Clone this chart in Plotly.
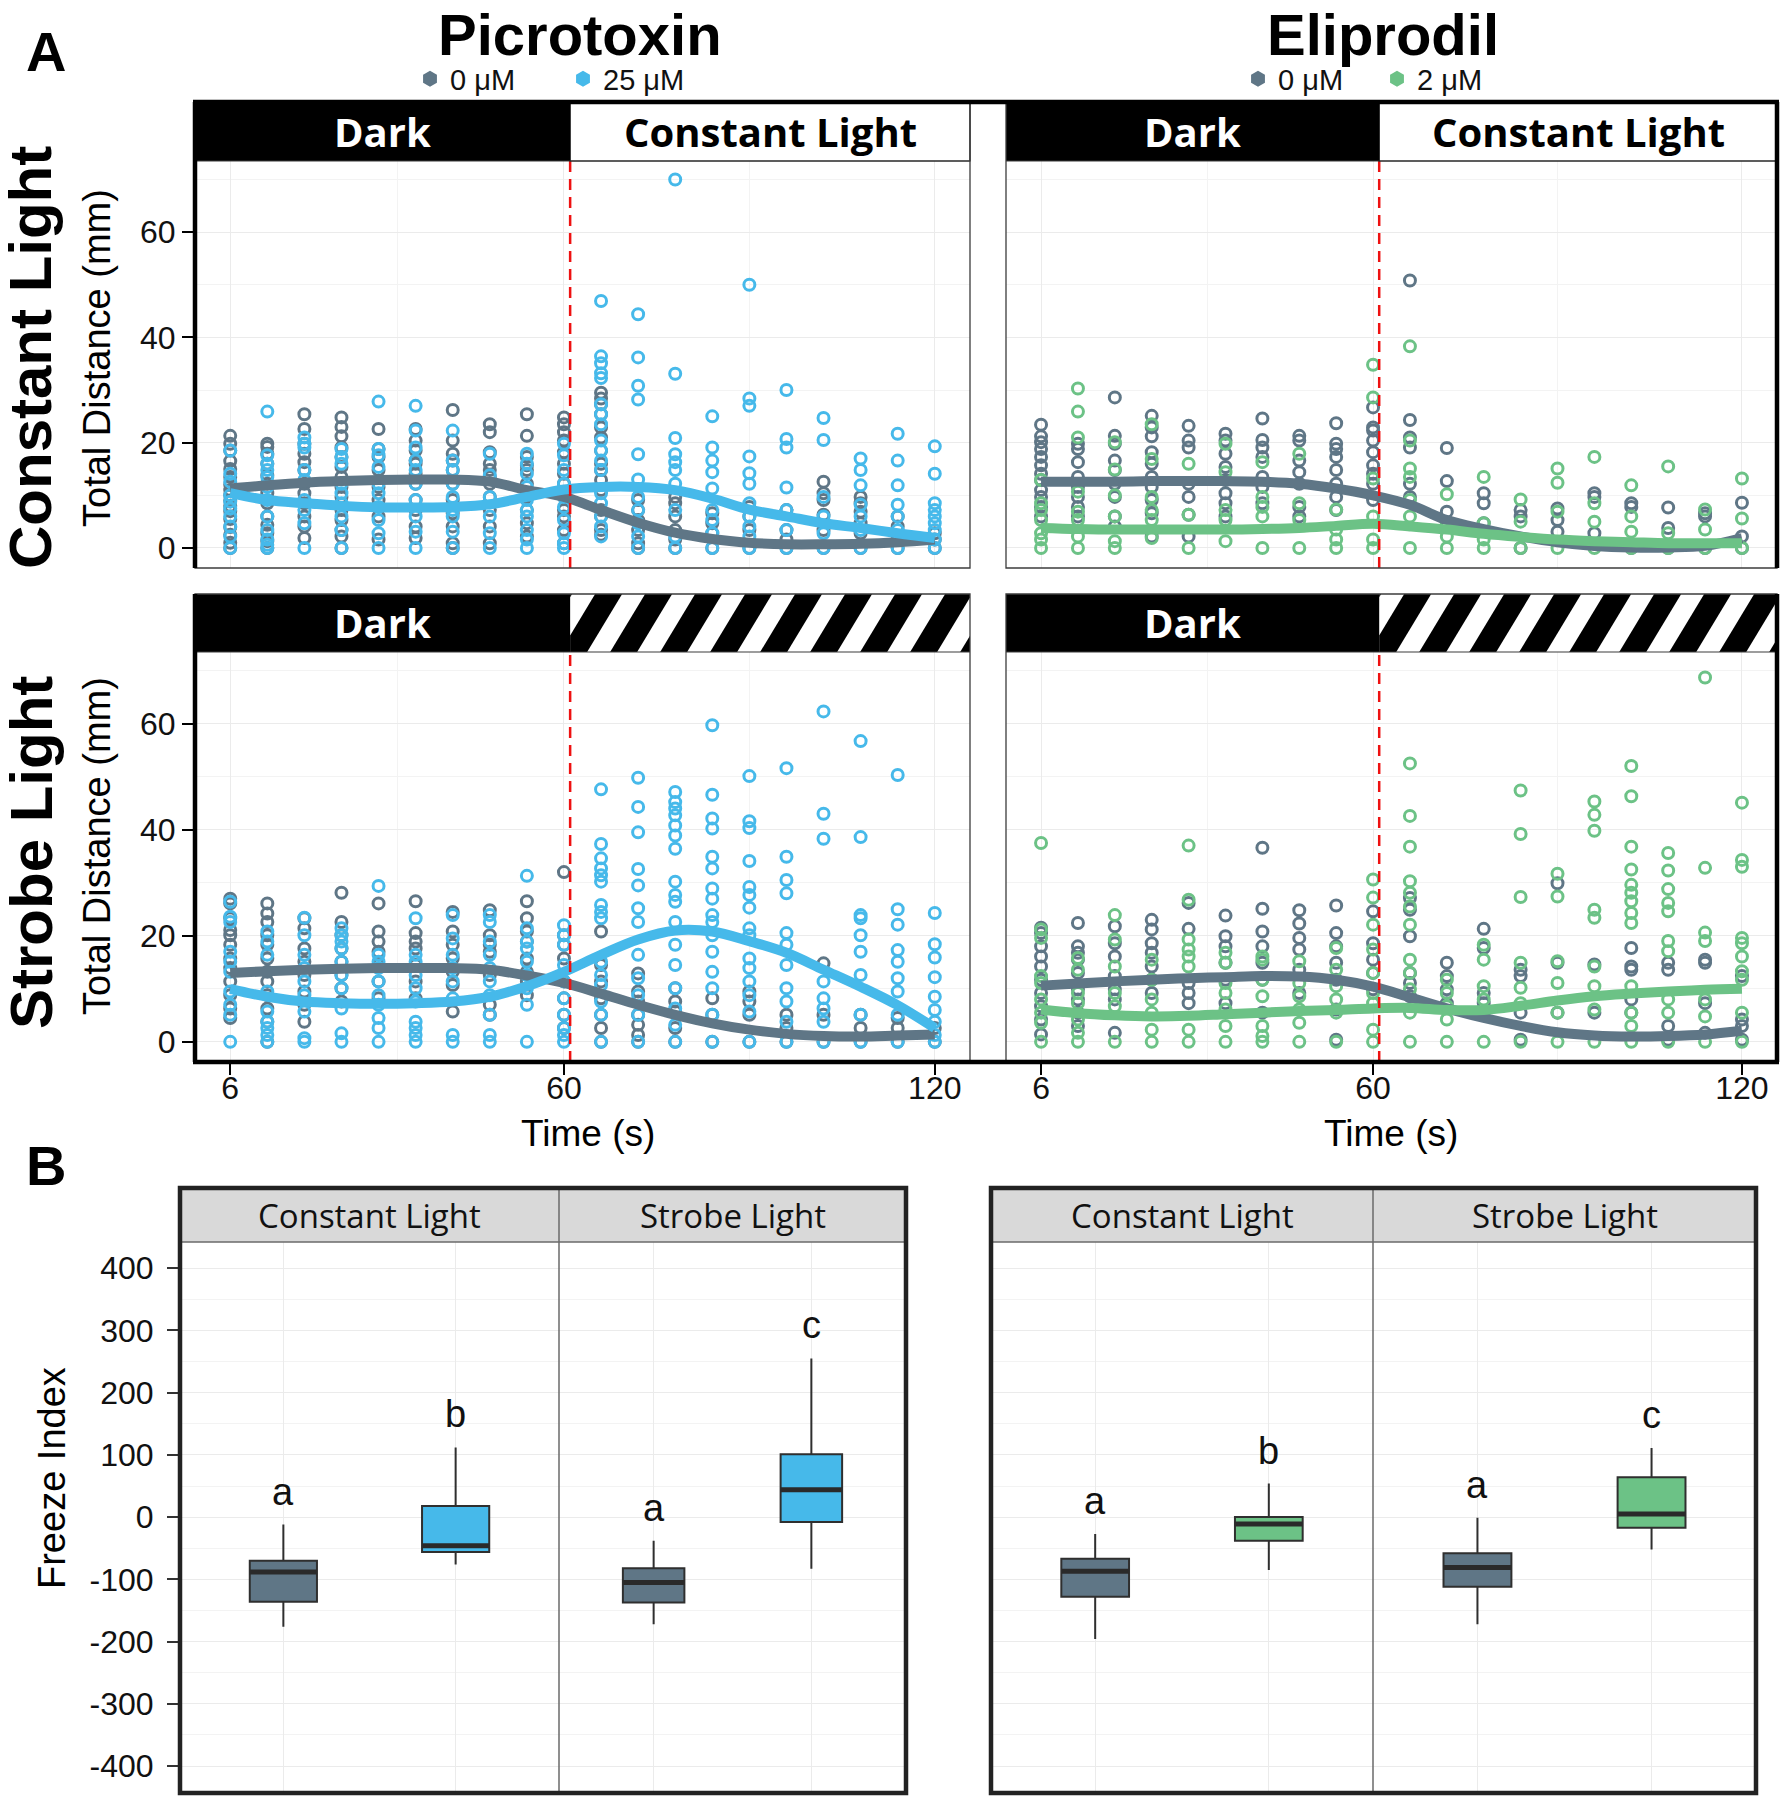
import plotly.graph_objects as go

W, H = 1785, 1800
FONT = "Liberation Sans"
STRIP_FONT = "Open Sans"

GREY = "#5f7686"
BLUE = "#46b9ea"
GREEN = "#6cc286"

TIME = [6, 12, 18, 24, 30, 36, 42, 48, 54, 60, 66, 72, 78, 84, 90, 96, 102, 108, 114, 120]
TIME_TICKS = [6, 60, 120]
TIME_MINOR = [33, 90]
DIST_TICKS = [0, 20, 40, 60]
DIST_MINOR = [10, 30, 50, 70]
LIGHT_ON = 61

# ---- Picrotoxin, constant light (one list of fish per time bin) ----
PIC_CONST_0UM = [
    [21.3, 19.8, 18.5, 16.5, 15.0, 13.5, 12.0, 11.0, 10.0, 9.0, 8.0, 7.0, 5.5, 4.0, 2.5, 1.0, 0.0],
    [19.8, 19.2, 17.9, 16.0, 13.8, 12.2, 10.4, 8.5, 6.0, 4.4, 2.8, 1.3, 0.0],
    [25.4, 22.6, 19.8, 17.9, 16.3, 14.8, 12.2, 10.4, 8.5, 6.0, 4.1, 1.9],
    [24.8, 23.0, 21.2, 19.1, 17.3, 15.4, 13.5, 11.6, 9.7, 7.2, 5.3, 3.4, 2.2, 0.0],
    [22.6, 18.8, 17.3, 14.8, 11.6, 9.1, 6.0, 1.6],
    [22.6, 20.4, 18.5, 16.6, 16.0, 14.1, 12.2, 9.1, 7.2, 4.1, 1.9],
    [26.2, 20.4, 17.9, 16.6, 14.8, 12.2, 9.1, 6.6, 4.1, 0.9, 0.0],
    [23.5, 22.0, 18.2, 16.0, 14.8, 13.5, 12.2, 9.7, 7.2, 4.1, 0.9],
    [25.4, 21.3, 17.3, 15.7, 14.8, 12.2, 9.7, 7.2, 4.7, 2.2],
    [24.8, 23.5, 22.0, 20.4, 18.2, 16.0, 14.1, 12.2, 9.7, 7.2, 6.0, 3.4, 0.9],
    [29.5, 28.4, 27.3, 25.4, 22.9, 21.0, 18.5, 16.0, 14.8, 12.9, 11.0, 7.2, 6.0, 3.4, 2.5],
    [9.1, 7.2, 5.3, 3.4, 0.9, 0.0],
    [9.7, 8.5, 6.0, 3.4, 1.6, 0.0],
    [6.6, 4.7, 2.8, 0.0],
    [7.8, 6.0, 3.4, 0.0],
    [7.2, 3.4, 1.6, 0.0],
    [12.6, 10.4, 9.1, 6.3, 3.4, 0.0],
    [9.7, 8.5, 6.9, 4.7, 2.8, 0.0],
    [6.0, 4.1, 2.2, 0.0],
    [2.8, 1.6, 0.0],
]
PIC_CONST_25UM = [
    [18.5, 14.1, 12.6, 10.0, 8.8, 7.5, 6.0, 4.1, 2.2, 0.0],
    [25.9, 17.6, 16.0, 14.8, 13.5, 11.6, 9.1, 6.0, 3.4, 1.6, 0.6, 0.0],
    [21.0, 19.8, 19.1, 14.8, 12.9, 9.1, 7.2, 4.7, 0.0],
    [18.8, 17.3, 16.0, 12.2, 10.4, 8.5, 6.0, 3.4, 0.0],
    [27.8, 18.8, 17.6, 15.4, 12.2, 10.4, 7.8, 5.3, 2.8, 0.0],
    [27.0, 22.3, 19.1, 16.6, 14.8, 12.2, 9.1, 6.0, 3.1, 0.0],
    [22.3, 16.6, 14.8, 12.2, 9.7, 7.2, 6.0, 3.1, 0.0],
    [17.9, 13.8, 9.7, 6.0, 2.8, 0.0],
    [17.9, 16.0, 14.1, 11.6, 9.1, 7.2, 6.0, 3.4, 1.6, 0.0],
    [19.8, 17.6, 14.8, 12.2, 9.7, 7.8, 5.3, 2.8, 0.9, 0.0],
    [46.9, 36.4, 35.1, 33.2, 32.3, 27.3, 25.4, 23.5, 20.4, 18.5, 16.6, 14.8, 10.4, 8.5, 6.0, 4.1, 2.2],
    [44.4, 36.2, 30.8, 28.2, 17.8, 13.0, 9.7, 7.2, 4.7, 2.2, 0.0],
    [70.0, 33.1, 20.9, 17.8, 16.3, 14.8, 12.2, 7.2, 2.2, 0.0],
    [25.0, 19.1, 16.6, 14.4, 11.3, 7.2, 5.3, 2.8, 0.0],
    [50.0, 28.4, 27.0, 17.4, 14.2, 12.2, 8.5, 6.0, 4.1, 2.2, 0.0],
    [30.0, 20.7, 19.1, 11.5, 7.2, 3.4, 0.0],
    [24.7, 20.5, 9.7, 6.0, 2.8, 0.0],
    [17.0, 14.8, 11.9, 8.2, 6.0, 3.4, 0.0],
    [21.7, 16.6, 11.9, 8.2, 6.0, 3.4, 0.0],
    [19.3, 14.1, 8.5, 7.2, 6.0, 4.7, 3.4, 1.6, 0.0],
]
PIC_CONST_0UM_FIT = [11.3, 11.9, 12.4, 12.7, 12.9, 13.0, 13.0, 12.6, 11.0, 9.7,
                     7.2, 4.8, 2.9, 1.7, 1.0, 0.7, 0.7, 0.8, 1.1, 1.6]
PIC_CONST_25UM_FIT = [10.4, 9.1, 8.5, 8.0, 7.7, 7.7, 7.8, 8.3, 9.7, 11.1,
                      11.6, 11.6, 11.0, 9.4, 7.3, 6.0, 4.7, 3.8, 2.8, 1.9]

# ---- Eliprodil, constant light ----
ELI_CONST_0UM = [
    [23.4, 21.2, 20.1, 18.8, 17.3, 15.7, 14.1, 12.9, 11.0, 9.7, 7.8, 6.0],
    [19.8, 18.8, 16.3, 13.5, 11.6, 9.7, 7.8, 6.0],
    [28.6, 21.3, 19.8, 16.6, 14.8, 12.2, 9.7, 6.0, 4.1],
    [25.1, 22.9, 21.2, 18.2, 16.0, 13.5, 11.6, 9.1, 6.6, 2.2],
    [23.2, 20.4, 19.1, 12.2, 9.7, 6.3, 2.2],
    [21.7, 20.4, 17.9, 15.4, 12.9, 10.4, 8.5, 6.0],
    [24.6, 20.5, 19.1, 17.3, 13.5, 11.6, 8.5],
    [21.3, 20.4, 16.6, 14.4, 12.2, 7.8, 6.0],
    [23.7, 19.8, 18.8, 17.3, 14.8, 12.2, 9.7, 7.2],
    [26.7, 22.9, 22.3, 20.4, 18.2, 15.7, 14.1, 12.2, 9.1],
    [50.8, 24.3, 21.0, 19.1, 12.2, 9.7],
    [19.0, 12.7, 6.9],
    [10.4, 8.5, 4.7],
    [7.2, 6.0, 0.0],
    [7.5, 5.3, 3.1],
    [10.4, 9.7, 2.8],
    [8.5, 7.8, 0.0],
    [7.7, 3.8, 0.0],
    [6.6, 6.0, 0.0],
    [8.6, 2.2, 0.0],
]
ELI_CONST_2UM = [
    [12.9, 8.5, 7.2, 5.3, 2.8, 1.6, 0.0],
    [30.3, 25.9, 21.0, 10.7, 6.9, 5.3, 2.2, 0.0],
    [20.1, 14.9, 10.0, 6.0, 1.3, 0.0],
    [23.5, 16.9, 9.7, 7.2, 5.3, 1.9],
    [16.0, 6.3, 0.0],
    [19.8, 14.4, 7.2, 5.3, 1.3],
    [16.3, 9.7, 7.8, 6.0, 0.0],
    [17.9, 8.5, 5.3, 0.0],
    [7.3, 3.5, 1.6, 0.0],
    [34.8, 28.6, 13.2, 6.0, 1.6, 0.0],
    [38.3, 20.4, 15.1, 13.5, 9.1, 6.0, 0.0],
    [10.2, 4.7, 2.2, 0.0],
    [13.5, 4.7, 1.6, 0.0],
    [9.2, 5.0, 0.0],
    [15.1, 12.4, 6.9, 0.0],
    [17.3, 8.5, 5.0, 0.0],
    [11.9, 6.0, 3.1, 0.0],
    [15.5, 2.8, 0.0],
    [7.3, 3.5, 0.0],
    [13.2, 5.6, 0.0],
]
ELI_CONST_0UM_FIT = [12.6, 12.6, 12.6, 12.7, 12.7, 12.7, 12.6, 12.2, 11.3, 10.0,
                     8.2, 5.3, 3.6, 2.2, 1.1, 0.4, 0.1, 0.1, 0.4, 1.9]
ELI_CONST_2UM_FIT = [3.8, 3.6, 3.5, 3.5, 3.5, 3.5, 3.6, 3.8, 4.2, 4.6,
                     4.1, 3.5, 2.7, 2.1, 1.6, 1.3, 1.1, 0.9, 0.9, 0.9]

# ---- Picrotoxin, strobe light ----
PIC_STROBE_0UM = [
    [27.0, 26.1, 23.3, 21.1, 20.1, 18.3, 15.7, 13.9, 11.4, 8.8, 6.3, 4.5],
    [26.1, 24.2, 22.6, 20.1, 18.3, 15.7, 13.2, 11.4, 8.8, 6.3, 3.8, 0.0],
    [23.3, 21.4, 17.6, 15.1, 12.6, 9.5, 7.0, 3.8],
    [28.1, 22.6, 20.1, 17.6, 15.1, 12.6, 10.1, 7.6],
    [26.1, 20.8, 18.9, 17.0, 14.5, 11.4, 8.2],
    [26.5, 20.5, 18.9, 17.6, 14.5, 11.4, 8.2],
    [24.5, 20.8, 18.3, 15.7, 13.2, 10.7, 5.7],
    [24.8, 20.1, 18.3, 17.0, 12.6, 7.0, 5.1],
    [26.5, 23.3, 20.8, 18.9, 15.7, 13.2, 11.4, 8.8],
    [32.0, 20.1, 18.3, 15.7, 11.4, 8.2, 5.1, 2.6],
    [20.8, 14.5, 11.4, 8.2, 5.1, 2.6, 0.0],
    [12.9, 9.5, 7.6, 5.1, 3.2, 1.3, 0.0],
    [10.1, 7.6, 5.7, 2.6, 0.0],
    [8.2, 5.1, 0.0],
    [9.5, 7.6, 5.1, 0.0],
    [5.1, 2.6, 0.0],
    [14.8, 5.1, 0.0],
    [5.1, 2.6, 0.0],
    [4.5, 2.6, 0.0],
    [2.6, 0.0],
]
PIC_STROBE_25UM = [
    [26.4, 23.6, 22.6, 17.0, 15.1, 13.2, 9.5, 7.0, 5.1, 0.0],
    [20.8, 18.9, 16.4, 9.5, 5.7, 3.8, 2.6, 1.3, 0.0],
    [23.4, 20.1, 16.4, 13.9, 11.4, 8.8, 5.7, 0.7, 0.0],
    [21.4, 20.1, 18.9, 17.6, 15.1, 12.6, 10.1, 6.3, 1.6, 0.0],
    [29.4, 16.4, 15.1, 13.9, 11.4, 8.8, 7.0, 4.5, 2.6, 0.0],
    [23.3, 16.4, 15.1, 12.6, 10.1, 7.6, 3.8, 2.6, 1.3, 0.0],
    [23.9, 19.5, 16.4, 13.9, 11.4, 8.2, 1.3, 0.0],
    [23.9, 22.6, 18.9, 16.4, 13.9, 11.4, 8.8, 5.1, 1.3, 0.0],
    [31.3, 21.4, 18.9, 17.6, 15.1, 12.6, 10.1, 7.0, 0.0],
    [22.0, 20.1, 18.3, 14.5, 11.4, 8.2, 5.1, 2.6, 1.3, 0.0],
    [47.6, 37.3, 34.6, 32.7, 31.4, 30.2, 25.8, 24.5, 23.3, 15.1, 12.6, 10.7, 7.6, 5.1, 0.0],
    [49.8, 44.3, 39.5, 32.6, 29.5, 25.2, 22.6, 16.4, 12.0, 8.8, 5.1, 0.0],
    [47.1, 45.2, 44.0, 42.7, 40.8, 38.9, 36.4, 30.2, 27.7, 26.4, 22.6, 18.3, 14.5, 10.1, 6.3, 3.2, 0.0],
    [59.7, 46.6, 42.1, 40.2, 34.9, 32.7, 28.9, 27.0, 23.9, 22.6, 20.1, 17.0, 13.2, 10.1, 5.1, 0.0],
    [50.1, 41.6, 40.3, 34.1, 29.2, 27.7, 25.3, 21.4, 20.1, 15.7, 13.9, 11.4, 8.8, 5.7, 0.0],
    [51.6, 34.9, 30.5, 28.0, 20.5, 18.3, 14.5, 10.1, 7.6, 3.8, 0.0],
    [62.3, 43.0, 38.3, 11.4, 8.2, 6.3, 3.8, 0.0],
    [56.7, 38.6, 23.9, 23.3, 20.1, 17.0, 12.6, 5.1, 0.0],
    [50.3, 25.0, 22.1, 17.3, 15.1, 12.0, 9.5, 5.1, 0.0],
    [24.3, 18.4, 15.9, 12.2, 8.5, 6.0, 3.8, 1.3, 0.0],
]
PIC_STROBE_0UM_FIT = [13.0, 13.3, 13.6, 13.8, 13.9, 13.9, 13.9, 13.6, 12.5, 11.1,
                      9.1, 7.0, 5.1, 3.5, 2.3, 1.5, 1.1, 1.0, 1.2, 1.4]
PIC_STROBE_25UM_FIT = [10.0, 8.5, 7.6, 7.3, 7.2, 7.3, 7.6, 8.5, 10.5, 13.2,
                       16.4, 19.3, 21.0, 20.8, 19.0, 16.8, 13.6, 10.4, 6.9, 2.6]

# ---- Eliprodil, strobe light ----
ELI_STROBE_0UM = [
    [21.5, 20.5, 18.0, 16.1, 14.2, 11.7, 9.2, 6.7, 4.2, 1.4],
    [22.4, 18.0, 16.8, 15.5, 13.0, 9.9, 8.0, 5.5, 3.0],
    [21.8, 18.6, 16.1, 12.4, 9.9, 8.0, 1.7],
    [23.0, 21.2, 18.6, 16.8, 14.2, 11.7, 9.2],
    [26.2, 21.3, 11.1, 9.2, 7.3],
    [23.8, 19.9, 18.0, 14.9, 11.7, 7.3],
    [36.6, 25.1, 20.8, 18.0, 14.9, 11.7, 5.5],
    [24.8, 22.3, 19.6, 17.4, 13.6, 9.2],
    [25.7, 20.5, 18.0, 14.9, 11.7, 6.1, 0.4],
    [24.6, 18.6, 15.5, 13.0, 9.9],
    [27.1, 24.9, 19.9, 13.0, 11.1, 8.6],
    [14.9, 12.4, 9.9, 7.3],
    [21.3, 17.7, 9.2, 7.3],
    [13.6, 12.4, 5.5, 0.4],
    [29.9, 14.9, 5.5],
    [14.6, 5.5],
    [17.7, 14.2, 13.6, 8.0, 5.5],
    [14.9, 13.6, 3.0, 0.4],
    [15.5, 14.9, 7.3, 1.7],
    [12.4, 4.2, 3.0, 0.4],
]
ELI_STROBE_2UM = [
    [37.5, 21.2, 19.6, 12.4, 11.1, 8.0, 5.5, 3.6, 0.0],
    [15.8, 13.6, 9.2, 7.3, 4.2, 1.7, 0.0],
    [23.9, 19.3, 14.2, 9.2, 6.7, 0.0],
    [15.5, 11.7, 8.0, 5.5, 2.3, 0.0],
    [37.0, 26.8, 19.3, 17.4, 16.1, 14.2, 2.3, 0.0],
    [16.8, 14.9, 11.1, 9.2, 6.1, 3.0, 0.0],
    [16.1, 15.5, 11.7, 8.6, 3.0, 1.1, 0.0],
    [15.2, 11.1, 8.6, 6.1, 3.6, 0.0],
    [17.7, 13.6, 10.5, 8.0, 5.5, 0.0],
    [30.6, 27.2, 22.1, 17.4, 13.0, 9.2, 7.3, 2.3, 0.0],
    [52.5, 42.6, 36.8, 30.3, 28.1, 25.5, 22.1, 15.5, 13.0, 9.9, 5.5, 0.0],
    [11.7, 9.2, 6.7, 4.2, 0.0],
    [18.3, 15.5, 10.5, 8.0, 5.5, 0.0],
    [47.4, 39.2, 27.3, 14.9, 10.2, 7.3, 0.0],
    [31.7, 27.4, 15.2, 11.1, 5.5, 0.0],
    [45.3, 42.8, 39.8, 24.9, 23.4, 14.2, 10.5, 6.1, 0.0],
    [52.0, 46.3, 36.8, 32.5, 29.6, 28.1, 26.5, 24.3, 22.4, 10.5, 5.5, 3.0, 0.0],
    [35.6, 32.3, 28.8, 26.2, 24.6, 19.0, 17.1, 8.0, 5.5, 0.0],
    [68.7, 32.8, 20.6, 19.0, 8.0, 4.8, 0.0],
    [45.1, 34.3, 33.0, 19.6, 18.6, 16.1, 13.3, 11.7, 5.5, 0.0],
]
ELI_STROBE_0UM_FIT = [10.6, 11.0, 11.4, 11.7, 12.0, 12.2, 12.4, 12.3, 11.7, 10.4,
                      8.4, 6.3, 4.5, 3.0, 1.8, 1.2, 1.0, 1.1, 1.4, 2.1]
ELI_STROBE_2UM_FIT = [6.1, 5.4, 5.0, 4.8, 4.9, 5.2, 5.5, 5.8, 6.0, 6.3,
                      6.4, 6.0, 6.0, 6.8, 7.8, 8.6, 9.1, 9.5, 9.8, 10.0]

# ---- Freeze index boxes: [lower whisker, q1, median, q3, upper whisker] ----
PIC_CONST_BOX = [[-176, -136, -88, -70, -12], [-76, -56, -46, 18, 112]]
PIC_STROBE_BOX = [[-172, -137, -105, -82, -38], [-83, -8, 44, 101, 255]]
ELI_CONST_BOX = [[-196, -128, -87, -67, -27], [-85, -38, -11, 0, 54]]
ELI_STROBE_BOX = [[-172, -112, -81, -58, -1], [-52, -17, 5, 64, 111]]
PIC_CONST_LETTERS = ["a", "b"]
PIC_STROBE_LETTERS = ["a", "c"]
ELI_CONST_LETTERS = ["a", "b"]
ELI_STROBE_LETTERS = ["a", "c"]
FREEZE_TICKS = [-400, -300, -200, -100, 0, 100, 200, 300, 400]
FREEZE_LABELS = ["-400", "-300", "-200", "-100", "0", "100", "200", "300", "400"]
FREEZE_MINOR = [-350, -250, -150, -50, 50, 150, 250, 350]


def fx(p):
    return p / W


def fy(p):
    return 1 - p / H


TIME_RANGE = [0.3, 125.7]
DIST_RANGE = [-3.8, 73.5]
A_COLS = [(195, 970), (1006, 1777)]
A_ROWS = [dict(strip=(102, 161), plot=(161, 568)),
          dict(strip=(594, 652), plot=(652, 1062))]


def tpx(t, x0, x1):
    return x0 + (t - TIME_RANGE[0]) / (TIME_RANGE[1] - TIME_RANGE[0]) * (x1 - x0)


fig = go.Figure()
shapes = []
annotations = []
layout = {}


def flat(cols):
    xs, ys = [], []
    for t, col in zip(TIME, cols):
        for v in col:
            xs.append(t)
            ys.append(v)
    return xs, ys


def clip_x(pts, lim, keep_greater):
    out = []
    for i in range(len(pts)):
        cur, prev = pts[i], pts[i - 1]
        cin = cur[0] >= lim if keep_greater else cur[0] <= lim
        pin = prev[0] >= lim if keep_greater else prev[0] <= lim
        if cin != pin:
            k = (lim - prev[0]) / (cur[0] - prev[0])
            out.append((lim, prev[1] + k * (cur[1] - prev[1])))
        if cin:
            out.append(cur)
    return out


def add_hatch(xs, xe, yt, yb):
    period, bw, dx = 50, 27, 35
    k = -2
    while xs + k * period - 10 < xe:
        xb = xs + k * period - 10
        poly = [(xb, yb), (xb + bw, yb), (xb + bw + dx, yt), (xb + dx, yt)]
        poly = clip_x(clip_x(poly, xs, True), xe, False)
        if len(poly) >= 3:
            path = "M " + " L ".join(f"{fx(a):.5f},{fy(b):.5f}" for a, b in poly) + " Z"
            shapes.append(dict(type="path", path=path, xref="paper", yref="paper",
                               fillcolor="black", line=dict(width=0), layer="above"))
        k += 1


def rect(x0, y0, x1, y1, **kw):
    d = dict(type="rect", xref="paper", yref="paper",
             x0=fx(x0), x1=fx(x1), y0=fy(y1), y1=fy(y0), layer="above")
    d.update(kw)
    shapes.append(d)


def hline(x0, x1, y, width, color="black"):
    shapes.append(dict(type="line", xref="paper", yref="paper", x0=fx(x0), x1=fx(x1),
                       y0=fy(y), y1=fy(y), line=dict(color=color, width=width), layer="above"))


def vline(x, y0, y1, width, color="black"):
    shapes.append(dict(type="line", xref="paper", yref="paper", x0=fx(x), x1=fx(x),
                       y0=fy(y0), y1=fy(y1), line=dict(color=color, width=width), layer="above"))


def text(x, y, s, size, family=FONT, color="black", bold=False, angle=0, yanchor="middle"):
    annotations.append(dict(x=fx(x), y=fy(y), xref="paper", yref="paper", showarrow=False,
                            xanchor="center", yanchor=yanchor,
                            text=f"<b>{s}</b>" if bold else s, textangle=angle,
                            font=dict(size=size, family=family, color=color)))


# ---------------- Panel A ----------------
panels = [
    (1, 0, 0, PIC_CONST_0UM, PIC_CONST_25UM, PIC_CONST_0UM_FIT, PIC_CONST_25UM_FIT, BLUE),
    (2, 1, 0, ELI_CONST_0UM, ELI_CONST_2UM, ELI_CONST_0UM_FIT, ELI_CONST_2UM_FIT, GREEN),
    (3, 0, 1, PIC_STROBE_0UM, PIC_STROBE_25UM, PIC_STROBE_0UM_FIT, PIC_STROBE_25UM_FIT, BLUE),
    (4, 1, 1, ELI_STROBE_0UM, ELI_STROBE_2UM, ELI_STROBE_0UM_FIT, ELI_STROBE_2UM_FIT, GREEN),
]

for idx, col, row, ctrl, drug, ctrl_fit, drug_fit, color in panels:
    x0, x1 = A_COLS[col]
    st, sb = A_ROWS[row]["strip"]
    pt, pb = A_ROWS[row]["plot"]
    sfx = "" if idx == 1 else str(idx)
    show_x = row == 1
    show_y = col == 0
    layout["xaxis" + sfx] = dict(
        domain=[fx(x0), fx(x1)], range=TIME_RANGE, anchor="y" + sfx,
        tickvals=TIME_TICKS, showgrid=True, gridcolor="#ebebeb", gridwidth=1,
        minor=dict(tickvals=TIME_MINOR, showgrid=True, gridcolor="#f3f3f3", gridwidth=1),
        showticklabels=show_x, ticks="outside" if show_x else "", ticklen=12,
        tickwidth=2, tickcolor="black", ticklabelstandoff=-14, zeroline=False, showline=False,
        tickfont=dict(size=32, family=FONT, color="#111"))
    layout["yaxis" + sfx] = dict(
        domain=[fy(pb), fy(pt)], range=DIST_RANGE, anchor="x" + sfx,
        tickvals=DIST_TICKS, showgrid=True, gridcolor="#ebebeb", gridwidth=1,
        minor=dict(tickvals=DIST_MINOR, showgrid=True, gridcolor="#f3f3f3", gridwidth=1),
        showticklabels=show_y, ticks="outside" if show_y else "", ticklen=12,
        tickwidth=2, tickcolor="black", ticklabelstandoff=0, zeroline=False, showline=False,
        tickfont=dict(size=32, family=FONT, color="#111"))

    for vals, c in ((ctrl, GREY), (drug, color)):
        xs, ys = flat(vals)
        fig.add_trace(go.Scatter(
            x=xs, y=ys, mode="markers", xaxis="x" + sfx, yaxis="y" + sfx, showlegend=False,
            marker=dict(symbol="circle-open", size=11, color=c, line=dict(width=3, color=c))))
    for fit, c in ((ctrl_fit, GREY), (drug_fit, color)):
        fig.add_trace(go.Scatter(
            x=TIME, y=fit, mode="lines", xaxis="x" + sfx, yaxis="y" + sfx, showlegend=False,
            line=dict(color=c, width=10, shape="spline", smoothing=1.0)))

    shapes.append(dict(type="line", xref="x" + sfx, yref=f"y{sfx} domain",
                       x0=LIGHT_ON, x1=LIGHT_ON, y0=0, y1=1,
                       line=dict(color="#ee1111", width=2.5, dash="11px,7px")))

    # strip header
    xl = tpx(LIGHT_ON, x0, x1)
    rect(x0, st, xl, sb, fillcolor="black", line=dict(width=0))
    text((x0 + xl) / 2, (st + sb) / 2, "Dark", 40, STRIP_FONT, "white", bold=True)
    if row == 0:
        rect(xl, st, x1, sb, fillcolor="white", line=dict(color="black", width=1.2))
        text((xl + x1) / 2, (st + sb) / 2, "Constant Light", 40, STRIP_FONT, "black", bold=True)
    else:
        add_hatch(xl, x1, st, sb)

    # frame
    rect(x0, st, x1, pb, line=dict(color="#3c3c3c", width=1.3))
    hline(x0, x1, sb, 1.2, "#3c3c3c")
    if col == 0:
        vline(x0, st, pb, 4.5)
    else:
        vline(x1, st, pb, 4.5)

hline(A_COLS[0][0] - 2, A_COLS[1][1] + 2, A_ROWS[0]["strip"][0], 4.5)
hline(A_COLS[0][0] - 2, A_COLS[1][1] + 2, A_ROWS[1]["plot"][1], 4.5)

# ---------------- Panel B ----------------
B_PANELS = [(180, 559, 906), (991, 1373, 1756)]
B_TOP, B_STRIP, B_BOT = 1188, 1242, 1793
FREEZE_RANGE = [-440, 442]
BOX_POS = [1, 2]
BOX_W = 0.39

box_sets = [
    (5, 0, 0, PIC_CONST_BOX, PIC_CONST_LETTERS, BLUE),
    (6, 0, 1, PIC_STROBE_BOX, PIC_STROBE_LETTERS, BLUE),
    (7, 1, 0, ELI_CONST_BOX, ELI_CONST_LETTERS, GREEN),
    (8, 1, 1, ELI_STROBE_BOX, ELI_STROBE_LETTERS, GREEN),
]
for idx, panel, facet, boxes, letters, color in box_sets:
    bx0, bdiv, bx1 = B_PANELS[panel]
    fa, fb = (bx0, bdiv) if facet == 0 else (bdiv, bx1)
    sfx = str(idx)
    show_y = idx == 5
    layout["xaxis" + sfx] = dict(
        domain=[fx(fa), fx(fb)], range=[0.4, 2.6], anchor="y" + sfx, tickvals=BOX_POS,
        showticklabels=False, showgrid=True, gridcolor="#ebebeb", zeroline=False, showline=False)
    layout["yaxis" + sfx] = dict(
        domain=[fy(B_BOT - 2), fy(B_STRIP)], range=FREEZE_RANGE, anchor="x" + sfx,
        tickvals=FREEZE_TICKS, ticktext=FREEZE_LABELS, showgrid=True, gridcolor="#ebebeb",
        gridwidth=1, minor=dict(tickvals=FREEZE_MINOR, showgrid=True, gridcolor="#f3f3f3"),
        showticklabels=show_y, ticks="outside" if show_y else "", ticklen=12, tickwidth=2,
        tickcolor="#333", ticklabelstandoff=7, zeroline=False, showline=False,
        tickfont=dict(size=32, family=FONT, color="#111"))
    for pos, stats, fill, letter in zip(BOX_POS, boxes, (GREY, color), letters):
        lo, q1, med, q3, hi = stats
        fig.add_trace(go.Box(
            x=[pos], q1=[q1], median=[med], q3=[q3], lowerfence=[lo], upperfence=[hi],
            width=BOX_W, whiskerwidth=0, fillcolor=fill, line=dict(color="#2f2f2f", width=2),
            xaxis="x" + sfx, yaxis="y" + sfx, showlegend=False, hoverinfo="skip"))
        fig.add_trace(go.Scatter(
            x=[pos - BOX_W / 2, pos + BOX_W / 2], y=[med, med], mode="lines",
            line=dict(color="#2a2a2a", width=5), xaxis="x" + sfx, yaxis="y" + sfx,
            showlegend=False, hoverinfo="skip"))
        annotations.append(dict(x=pos, y=hi, xref="x" + sfx, yref="y" + sfx, text=letter,
                                showarrow=False, xanchor="center", yanchor="bottom", yshift=10,
                                font=dict(size=38, family=FONT, color="#111")))

for bx0, bdiv, bx1 in B_PANELS:
    rect(bx0, B_TOP + 2, bx1, B_STRIP, fillcolor="#d9d9d9", line=dict(width=0))
    hline(bx0, bx1, B_STRIP, 1.5, "#6a6a6a")
    vline(bdiv, B_TOP, B_BOT, 1.5, "#6a6a6a")
    rect(bx0, B_TOP, bx1, B_BOT, line=dict(color="#222", width=4.5))
    text((bx0 + bdiv) / 2, (B_TOP + B_STRIP) / 2, "Constant Light", 33, STRIP_FONT, "#111")
    text((bdiv + bx1) / 2, (B_TOP + B_STRIP) / 2, "Strobe Light", 33, STRIP_FONT, "#111")

# ---------------- titles / labels ----------------
text(46, 52, "A", 56, bold=True)
text(46, 1165, "B", 56, bold=True)
text(580, 0, "Picrotoxin", 58, bold=True, yanchor="top")
text(1383, 0, "Eliprodil", 58, bold=True, yanchor="top")
text(30, 358, "Constant Light", 60, bold=True, angle=-90)
text(31, 853, "Strobe Light", 60, bold=True, angle=-90)
text(97, 358, "Total Distance (mm)", 38, angle=-90)
text(97, 846, "Total Distance (mm)", 38, angle=-90)
text(52, 1478, "Freeze Index", 38, angle=-90)
text(588, 1133, "Time (s)", 37)
text(1391, 1133, "Time (s)", 37)

# legends (key glyphs only)
for name, c, leg in (("0 μM", GREY, "legend"), ("25 μM", BLUE, "legend"),
                     ("0 μM", GREY, "legend2"), ("2 μM", GREEN, "legend2")):
    fig.add_trace(go.Scatter(x=[None], y=[None], mode="markers", name=name, legend=leg,
                             marker=dict(symbol="hexagon", size=16, color=c),
                             xaxis="x", yaxis="y", showlegend=True))

legend_common = dict(orientation="h", yanchor="middle", xanchor="left",
                     font=dict(size=29, family=FONT, color="#111"),
                     bgcolor="rgba(0,0,0,0)", itemwidth=30, entrywidthmode="pixels")

fig.update_layout(
    width=W, height=H, margin=dict(l=0, r=0, t=0, b=0),
    plot_bgcolor="white", paper_bgcolor="white",
    shapes=shapes, annotations=annotations,
    legend=dict(x=fx(410), y=fy(79), entrywidth=108, **legend_common),
    legend2=dict(x=fx(1238), y=fy(79), entrywidth=94, **legend_common),
    **layout)

# the page's default body margin would push the 1785x1800 figure off its canvas
fig.write_html("out.html", config={"displayModeBar": False},
               post_script="document.body.style.margin = '0';")
